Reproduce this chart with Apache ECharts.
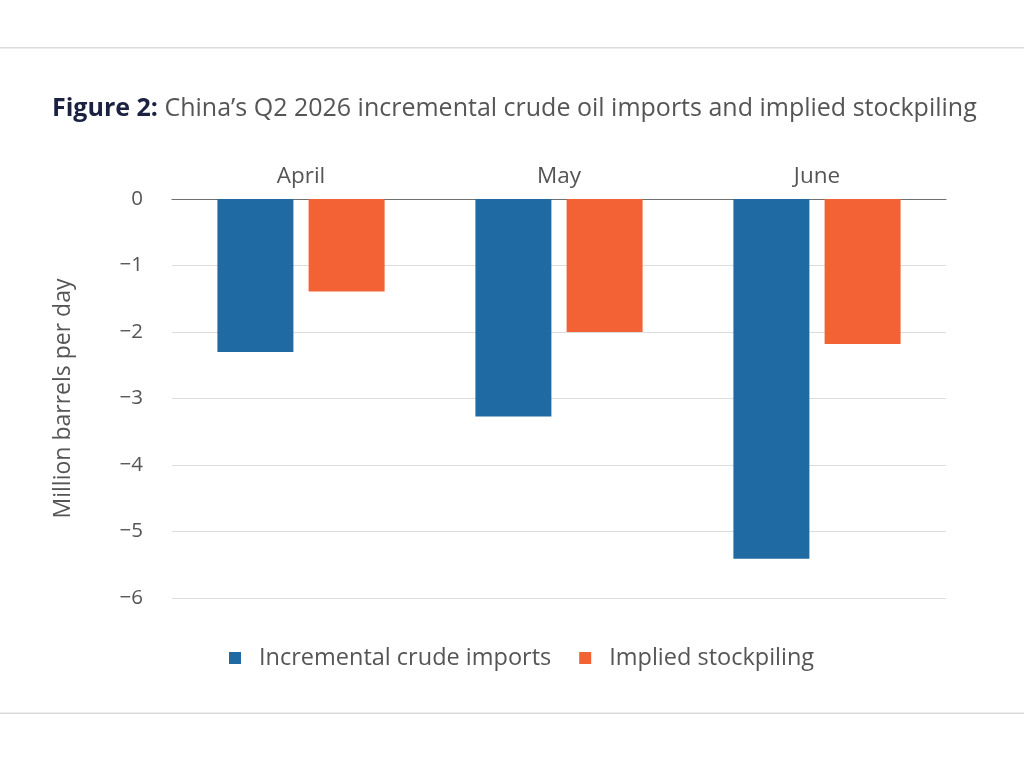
<!DOCTYPE html>
<html>
<head>
<meta charset="utf-8">
<script src="https://cdn.jsdelivr.net/npm/echarts@6/dist/echarts.min.js"></script>
<style>html,body{margin:0;padding:0;background:#fff;}#chart{width:1024px;height:764px;}</style>
</head>
<body>
<div id="chart"></div>
<script>
const categories = ['April', 'May', 'June'];
const crudeImports = [-2.30, -3.27, -5.41];
const stockpiling = [-1.39, -2.00, -2.18];
const yTicks = [0, -1, -2, -3, -4, -5, -6];

const FONT = 'Open Sans';
const chart = echarts.init(document.getElementById('chart'));
chart.setOption({
  backgroundColor: '#ffffff',
  animation: false,
  textStyle: { fontFamily: FONT },
  title: {
    text: '{b|Figure 2:} China’s Q2 2026 incremental crude oil imports and implied stockpiling',
    left: 47, top: 91,
    textStyle: {
      fontFamily: FONT, fontSize: 25, fontWeight: 'normal', color: '#555555',
      rich: { b: { fontFamily: FONT, fontSize: 25, fontWeight: 'bold', color: '#1b2140' } }
    }
  },
  graphic: [
    { type: 'rect', shape: { x: 0, y: 47, width: 1024, height: 1.5 }, style: { fill: '#dcdcdc' } },
    { type: 'rect', shape: { x: 0, y: 712.5, width: 1024, height: 1.5 }, style: { fill: '#dcdcdc' } }
  ],
  legend: {
    bottom: 89, left: 224,
    itemWidth: 12, itemHeight: 12, itemGap: 28,
    icon: 'rect',
    textStyle: { fontFamily: FONT, fontSize: 23.5, color: '#555555', padding: [0, 0, 0, 13] },
    data: ['Incremental crude imports', 'Implied stockpiling']
  },
  grid: { left: 172, right: 78, top: 199, bottom: 166 },
  xAxis: {
    type: 'category', position: 'top', data: categories,
    axisLine: { lineStyle: { color: '#707070', width: 1.2 } },
    axisTick: { show: false },
    axisLabel: { fontFamily: FONT, fontSize: 22.5, color: '#555555', margin: 11 }
  },
  yAxis: {
    type: 'value', min: -6, max: 0, interval: 1,
    name: 'Million barrels per day', nameLocation: 'middle', nameGap: 97, nameRotate: 90,
    nameTextStyle: { fontFamily: FONT, fontSize: 23, color: '#555555' },
    axisLine: { show: false }, axisTick: { show: false },
    axisLabel: {
      fontFamily: FONT, fontSize: 20.5, color: '#555555', margin: 29,
      formatter: v => (yTicks.includes(v) ? String(v).replace('-', '−') : '')
    },
    splitLine: { lineStyle: { color: '#dddddd', width: 1.2 } }
  },
  series: [
    { name: 'Incremental crude imports', type: 'bar', data: crudeImports,
      barWidth: 76, barGap: '20%', itemStyle: { color: '#1f6aa3' } },
    { name: 'Implied stockpiling', type: 'bar', data: stockpiling,
      barWidth: 76, itemStyle: { color: '#f26235' } }
  ]
});
</script>
</body>
</html>
